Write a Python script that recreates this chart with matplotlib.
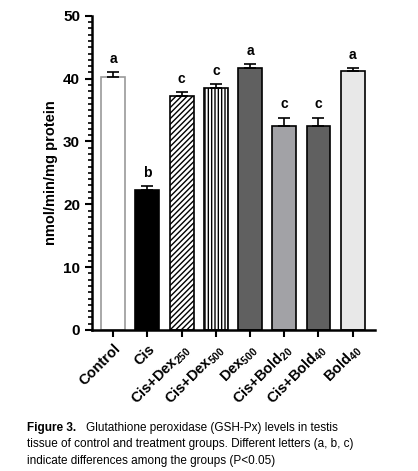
import matplotlib.pyplot as plt
from matplotlib.ticker import MultipleLocator

groups = ["Control", "Cis", r"Cis+Dex$_{250}$", r"Cis+Dex$_{500}$", r"Dex$_{500}$",
          r"Cis+Bold$_{20}$", r"Cis+Bold$_{40}$", r"Bold$_{40}$"]
means = [40.2, 22.3, 37.3, 38.5, 41.7, 32.4, 32.4, 41.2]
errors = [0.8, 0.6, 0.5, 0.6, 0.6, 1.4, 1.4, 0.5]
letters = ["a", "b", "c", "c", "a", "c", "c", "a"]

colors = ["white", "black", "white", "white", "#606060", "#a2a2a6", "#606060", "#e8e8e8"]
hatches = [None, None, "//////", "|||||", None, None, None, None]

plt.rcParams['font.family'] = ['Liberation Sans', 'DejaVu Sans']
plt.rcParams['mathtext.fontset'] = 'custom'
plt.rcParams['mathtext.rm'] = 'Liberation Sans:bold'
plt.rcParams['mathtext.it'] = 'Liberation Sans:bold'
plt.rcParams['hatch.linewidth'] = 1.0

fig = plt.figure(figsize=(4.18, 4.71), dpi=100)
ax = fig.add_axes([0.22, 0.2994, 0.677, 0.667])

x = range(len(groups))
for i in x:
    ax.bar(i, means[i], width=0.7, color=colors[i], edgecolor="#9a9a9a" if i == 0 else "black",
           linewidth=1.2, hatch=hatches[i], zorder=2)
    ax.errorbar(i, means[i], yerr=[[0], [errors[i]]], fmt="none", ecolor="black",
                elinewidth=1.2, capsize=4, capthick=1.2, zorder=3)
    ax.text(i, means[i] + errors[i] + 1.0, letters[i], ha="center", va="bottom",
            fontsize=10, fontweight="bold")

ax.set_xlim(-0.62, 7.65)
ax.set_ylim(0, 50)
ax.yaxis.set_major_locator(MultipleLocator(10))
ax.yaxis.set_minor_locator(MultipleLocator(1))
ax.tick_params(axis="y", which="major", length=5, width=1.5, labelsize=11)
ax.tick_params(axis="y", which="minor", length=3, width=1.2)
ax.tick_params(axis="x", length=5, width=1.5)
for lbl in ax.get_yticklabels():
    lbl.set_fontweight("bold")
ax.set_xticks(list(x))
ax.set_xticklabels(groups, rotation=45, ha="right", rotation_mode="anchor",
                   fontsize=10.5, fontweight="bold")
ax.set_ylabel("nmol/min/mg protein", fontsize=10.5, fontweight="bold")
for s in ["top", "right"]:
    ax.spines[s].set_visible(False)
for s in ["left", "bottom"]:
    ax.spines[s].set_linewidth(1.8)

fig.text(0.065, 0.085, "Figure 3.", fontsize=8.5, fontweight="bold")
fig.text(0.205, 0.085, "Glutathione peroxidase (GSH-Px) levels in testis", fontsize=8.5)
fig.text(0.065, 0.050, "tissue of control and treatment groups. Different letters (a, b, c)", fontsize=8.5)
fig.text(0.065, 0.015, "indicate differences among the groups (P<0.05)", fontsize=8.5)

fig.savefig("out.png", dpi=100)
